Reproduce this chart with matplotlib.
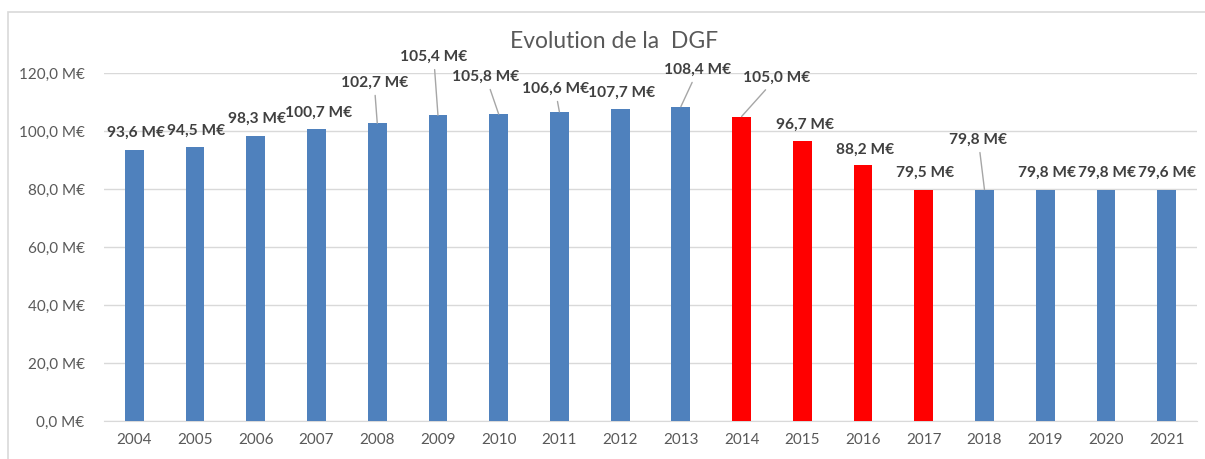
import matplotlib
matplotlib.use("Agg")
import matplotlib.pyplot as plt
from matplotlib.patches import Rectangle

plt.rcParams['font.family'] = ['Lato', 'DejaVu Sans']

# Data
years = ['2004', '2005', '2006', '2007', '2008', '2009', '2010', '2011', '2012',
         '2013', '2014', '2015', '2016', '2017', '2018', '2019', '2020', '2021']
dgf = [93.6, 94.5, 98.3, 100.7, 102.7, 105.4, 105.8, 106.6, 107.7,
       108.4, 105.0, 96.7, 88.2, 79.5, 79.8, 79.8, 79.8, 79.6]
cut_years = ['2014', '2015', '2016', '2017']

# label placement (offset from bar top: dx in categories, dy in M€), leader line or not
label_dx = [0.03, 0.01, 0.02, 0.04, -0.05, -0.07, -0.21, -0.07, 0.03,
            0.28, 0.57, 0.05, 0.04, 0.02, -0.10, 0.03, 0.02, 0.01]
label_dy = [5.7, 5.5, 5.8, 5.5, 13.9, 20.1, 12.8, 7.9, 5.4,
            12.6, 13.3, 5.4, 5.2, 6.0, 17.1, 5.7, 5.7, 5.9]
leader = [False, False, False, False, True, True, True, True, False,
          True, True, False, False, False, True, False, False, False]

blue = '#4F81BD'
red = '#FF0000'
grey_txt = '#595959'

fig = plt.figure(figsize=(12.05, 4.59), dpi=100)
ax = fig.add_axes([104 / 1205, 38 / 459, 1093 / 1205, 348 / 459])

# outer chart frame
fig.patches.append(Rectangle((8 / 1205, -0.02), 1.05, 1 - 12 / 459 + 0.02,
                             transform=fig.transFigure, fill=False,
                             edgecolor='#D9D9D9', linewidth=1.2))

x = list(range(len(years)))
colors = [red if y in cut_years else blue for y in years]
ax.bar(x, dgf, width=0.31, color=colors, zorder=3)

ax.set_xlim(-0.5, len(years) - 0.5)
ax.set_ylim(0, 120)
ax.set_yticks([0, 20, 40, 60, 80, 100, 120])
ax.set_yticklabels([f"{v:.1f}".replace('.', ',') + " M€" for v in [0, 20, 40, 60, 80, 100, 120]])
ax.set_xticks(x)
ax.set_xticklabels(years)
ax.tick_params(axis='both', length=0, colors=grey_txt, labelsize=11)
ax.tick_params(axis='x', pad=9)
ax.tick_params(axis='y', pad=14)
ax.grid(axis='y', color='#D9D9D9', linewidth=1, zorder=0)
for s in ['top', 'right', 'left']:
    ax.spines[s].set_visible(False)
ax.spines['bottom'].set_color('#D9D9D9')

for i, v in enumerate(dgf):
    txt = f"{v:.1f}".replace('.', ',') + " M€"
    props = None
    if leader[i]:
        props = dict(arrowstyle='-', color='#A6A6A6', lw=1, shrinkA=2, shrinkB=0)
    ax.annotate(txt, xy=(i, v), xytext=(i + label_dx[i], v + label_dy[i]),
                ha='center', va='center', fontsize=11.2, fontweight='bold',
                color='#404040', arrowprops=props, annotation_clip=False)

fig.text(614 / 1205, 1 - 42 / 459, "Evolution de la  DGF", ha='center', va='center',
         fontsize=16.5, color=grey_txt)

fig.savefig('out.png', dpi=100)
